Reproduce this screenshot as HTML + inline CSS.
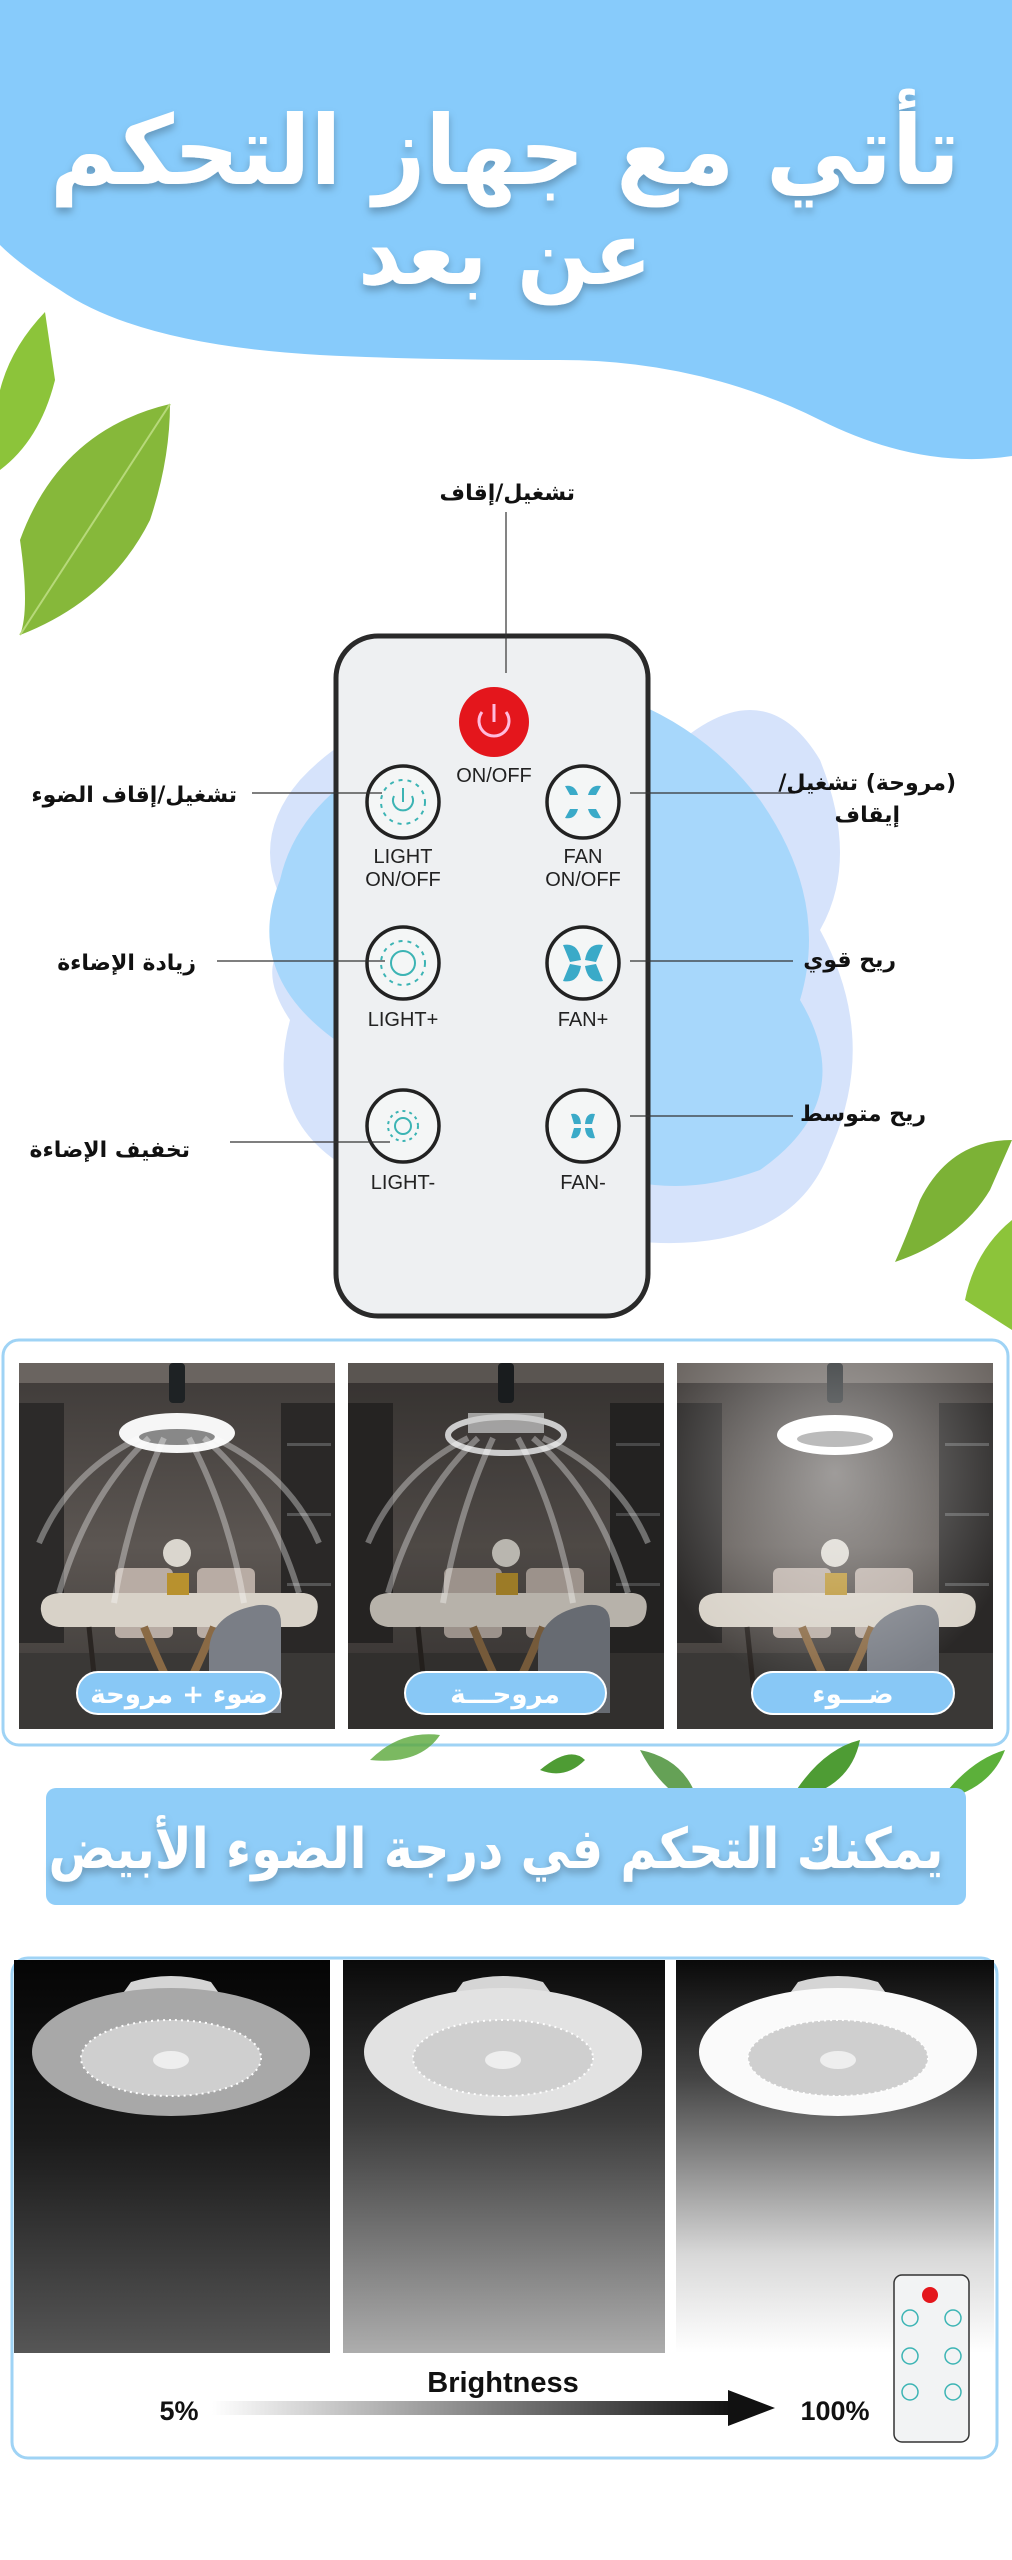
<!DOCTYPE html>
<html><head><meta charset="utf-8">
<style>
html,body{margin:0;padding:0;background:#fff;}
svg{display:block;}
.ar{font-family:"DejaVu Sans","Liberation Sans",sans-serif;}
</style></head>
<body>
<svg width="1012" height="2560" viewBox="0 0 1012 2560" xmlns="http://www.w3.org/2000/svg">
<defs>
  <filter id="sh" x="-10%" y="-10%" width="120%" height="130%"><feDropShadow dx="0" dy="5" stdDeviation="4" flood-color="#000" flood-opacity="0.25"/></filter>
  <linearGradient id="room" x1="0" y1="0" x2="0" y2="1">
    <stop offset="0" stop-color="#3e3a38"/><stop offset="0.5" stop-color="#5c5652"/><stop offset="1" stop-color="#3a3735"/>
  </linearGradient>
  <radialGradient id="glow" cx="0.5" cy="0.3" r="0.6">
    <stop offset="0" stop-color="#fff" stop-opacity="0.45"/><stop offset="1" stop-color="#fff" stop-opacity="0"/>
  </radialGradient>
  <g id="scene">
    <rect width="316" height="366" fill="url(#room)"/>
    <rect x="0" y="0" width="316" height="20" fill="#6a6460"/>
    <rect x="0" y="40" width="45" height="240" fill="#2c2a29"/>
    <rect x="262" y="40" width="54" height="260" fill="#2a2827"/>
    <rect x="268" y="80" width="44" height="3" fill="#555"/><rect x="268" y="150" width="44" height="3" fill="#555"/><rect x="268" y="220" width="44" height="3" fill="#555"/>
    <rect x="0" y="290" width="316" height="76" fill="#3a3836"/>
    <rect x="96" y="205" width="58" height="70" rx="6" fill="#b8aca4"/>
    <rect x="178" y="205" width="58" height="70" rx="6" fill="#b8aca4"/>
    <path d="M22 248 Q20 232 40 230 L285 230 Q302 232 298 250 Q296 262 280 264 L40 264 Q24 262 22 248Z" fill="#d8d2c8"/>
    <path d="M70 264 L78 340 M250 264 L242 340" stroke="#2a2522" stroke-width="5"/>
    <path d="M125 264 Q140 300 150 320 M195 264 Q180 300 170 320" stroke="#8a6a45" stroke-width="8" fill="none"/>
    <path d="M190 290 Q190 250 240 242 Q262 240 262 260 L262 350 L190 350Z" fill="#7a7e86"/>
    <rect x="148" y="210" width="22" height="22" fill="#b8912e"/>
    <circle cx="158" cy="190" r="14" fill="#e8e4dc" opacity="0.9"/>
    <rect x="150" y="0" width="16" height="40" rx="4" fill="#1e2224"/>
  </g>
  <g id="wind" fill="none" stroke="#fff" stroke-opacity="0.35" stroke-width="6">
    <path d="M130 75 Q70 130 40 230"/><path d="M145 75 Q110 150 95 240"/><path d="M170 75 Q210 150 225 240"/><path d="M185 75 Q250 130 280 230"/>
    <path d="M120 75 Q50 110 20 180"/><path d="M195 75 Q270 110 300 180"/>
  </g>
  <linearGradient id="p1" x1="0" y1="0" x2="0" y2="1"><stop offset="0" stop-color="#050505"/><stop offset="0.45" stop-color="#1a1a1a"/><stop offset="1" stop-color="#565656"/></linearGradient>
  <linearGradient id="p2" x1="0" y1="0" x2="0" y2="1"><stop offset="0" stop-color="#0a0a0a"/><stop offset="0.4" stop-color="#3a3a3a"/><stop offset="1" stop-color="#adadad"/></linearGradient>
  <linearGradient id="p3" x1="0" y1="0" x2="0" y2="1"><stop offset="0" stop-color="#0a0a0a"/><stop offset="0.3" stop-color="#444"/><stop offset="0.75" stop-color="#d8d8d8"/><stop offset="1" stop-color="#fff"/></linearGradient>
  <linearGradient id="arr" x1="0" x2="1"><stop offset="0" stop-color="#fff"/><stop offset="1" stop-color="#111"/></linearGradient>
  <g id="fan">
    <path d="M-40 -70 Q0 -82 40 -70 L50 -56 L-50 -56Z" fill="#d5d5d5"/>
    <ellipse cx="0" cy="0" rx="139" ry="64"/>
    <ellipse cx="0" cy="6" rx="90" ry="38" fill="#cfcfcf"/>
    <ellipse cx="0" cy="6" rx="90" ry="38" fill="none" stroke="#fff" stroke-width="2" stroke-dasharray="2 4"/>
    <ellipse cx="0" cy="8" rx="18" ry="9" fill="#eee"/>
  </g>
</defs>

<!-- header -->
<path d="M0 0 H1012 V456 Q920 470 820 420 Q700 360 560 360 Q420 360 320 355 Q140 345 60 290 Q20 265 0 245Z" fill="#87cbfb"/>
<g class="ar" fill="#fff" font-weight="bold" text-anchor="middle" filter="url(#sh)">
  <text x="505" y="184" font-size="96" direction="rtl" textLength="910" lengthAdjust="spacingAndGlyphs">تأتي مع جهاز التحكم</text>
  <text x="505" y="284" font-size="88" direction="rtl" textLength="294" lengthAdjust="spacingAndGlyphs">عن بعد</text>
</g>

<!-- leaves -->
<path d="M45 312 Q-20 380 0 470 Q40 440 55 380Z" fill="#8cc43a"/>
<path d="M170 404 Q60 430 20 540 Q30 610 20 635 Q110 600 150 520 Q170 460 170 404Z" fill="#86b83a"/>
<path d="M170 404 L20 635" stroke="#b7d97a" stroke-width="2"/>
<path d="M1012 1140 Q950 1140 920 1200 Q905 1240 895 1262 Q960 1240 990 1190Z" fill="#7cb236"/>
<path d="M1012 1220 Q975 1250 965 1300 L1012 1330Z" fill="#8cc43a"/>

<!-- blob -->
<path d="M660 760 Q760 660 820 760 Q860 860 820 930 Q880 1040 830 1150 Q790 1260 620 1240 Q480 1230 370 1180 Q260 1130 290 1020 Q250 960 300 930 Q240 850 300 780 Q420 650 660 760Z" fill="#d6e3fb"/>
<path d="M420 740 Q520 640 600 690 Q700 720 760 800 Q830 900 800 1000 Q860 1100 760 1170 Q650 1210 560 1150 Q420 1120 350 1050 Q240 980 280 880 Q300 790 420 740Z" fill="#a7d7fb"/>

<!-- remote -->
<rect x="336" y="636" width="312" height="680" rx="42" fill="#eef0f2" stroke="#2a2a2a" stroke-width="5"/>
<line x1="506" y1="512" x2="506" y2="673" stroke="#333" stroke-width="1.2"/>
<circle cx="494" cy="722" r="35" fill="#e4161c"/>
<path d="M482 712 A15 15 0 1 0 506 712" fill="none" stroke="#fbd" stroke-width="3"/>
<line x1="494" y1="704" x2="494" y2="722" stroke="#fbd" stroke-width="3"/>
<g font-family="Liberation Sans, sans-serif" font-size="20" fill="#222" text-anchor="middle">
  <text x="494" y="782">ON/OFF</text>
  <text x="403" y="863">LIGHT</text><text x="403" y="886">ON/OFF</text>
  <text x="583" y="863">FAN</text><text x="583" y="886">ON/OFF</text>
  <text x="403" y="1026">LIGHT+</text><text x="583" y="1026">FAN+</text>
  <text x="403" y="1189">LIGHT-</text><text x="583" y="1189">FAN-</text>
</g>
<g fill="#f4f6f6" stroke="#222" stroke-width="3.5">
  <circle cx="403" cy="802" r="36"/><circle cx="583" cy="802" r="36"/>
  <circle cx="403" cy="963" r="36"/><circle cx="583" cy="963" r="36"/>
  <circle cx="403" cy="1126" r="36"/><circle cx="583" cy="1126" r="36"/>
</g>
<g stroke="#3cb4b4" stroke-width="2" fill="none">
  <path d="M394 796 A10 10 0 1 0 412 796"/><line x1="403" y1="788" x2="403" y2="802"/>
  <circle cx="403" cy="802" r="22" stroke-dasharray="4 5"/>
  <circle cx="403" cy="963" r="12"/><circle cx="403" cy="963" r="22" stroke-dasharray="4 5"/>
  <circle cx="403" cy="1126" r="8"/><circle cx="403" cy="1126" r="15" stroke-dasharray="3 4"/>
</g>
<g fill="#3aaac8">
  <path d="M565 786 Q575 784 578 795 L570 795Z M601 786 Q591 784 588 795 L596 795Z M565 818 Q575 820 578 809 L570 809Z M601 818 Q591 820 588 809 L596 809Z"/>
  <path d="M563 945 Q578 942 581 960 L570 962Z M603 945 Q588 942 585 960 L596 962Z M563 981 Q578 984 581 966 L570 964Z M603 981 Q588 984 585 966 L596 964Z"/>
  <path d="M571 1114 Q580 1112 581 1124 L574 1124Z M595 1114 Q586 1112 585 1124 L592 1124Z M571 1138 Q580 1140 581 1128 L574 1128Z M595 1138 Q586 1140 585 1128 L592 1128Z"/>
</g>
<!-- leaders -->
<g stroke="#333" stroke-width="1.2">
  <line x1="252" y1="793" x2="382" y2="793"/><line x1="217" y1="961" x2="385" y2="961"/><line x1="230" y1="1142" x2="390" y2="1142"/>
  <line x1="630" y1="793" x2="795" y2="793"/><line x1="630" y1="961" x2="793" y2="961"/><line x1="630" y1="1116" x2="793" y2="1116"/>
</g>
<g class="ar" font-size="22" font-weight="bold" fill="#111" direction="rtl">
  <text x="575" y="500" text-anchor="start">تشغيل/إقاف</text>
  <text x="237" y="802" text-anchor="start">تشغيل/إقاف الضوء</text>
  <text x="196" y="970" text-anchor="start">زيادة الإضاءة</text>
  <text x="190" y="1157" text-anchor="start">تخفيف الإضاءة</text>
  <text x="956" y="790" text-anchor="start">(مروحة) تشغيل/</text>
  <text x="900" y="822" text-anchor="start">إيقاف</text>
  <text x="896" y="967" text-anchor="start">ريح قوي</text>
  <text x="926" y="1121" text-anchor="start">ريح متوسط</text>
</g>

<!-- section 3 photos -->
<rect x="3" y="1340" width="1005" height="405" rx="16" fill="#fff" stroke="#9fd3f5" stroke-width="3"/>
<g transform="translate(19,1363)">
  <use href="#scene"/>
  <ellipse cx="158" cy="70" rx="58" ry="20" fill="#f6f6f6"/><ellipse cx="158" cy="74" rx="38" ry="8" fill="#888"/>
  <use href="#wind"/>
</g>
<g transform="translate(348,1363)">
  <use href="#scene"/>
  <rect x="0" y="0" width="316" height="366" fill="#000" opacity="0.15"/>
  <rect x="120" y="50" width="76" height="20" fill="#bbb" opacity="0.8"/>
  <ellipse cx="158" cy="72" rx="58" ry="18" fill="none" stroke="#ccc" stroke-width="6"/>
  <use href="#wind"/>
</g>
<g transform="translate(677,1363)">
  <use href="#scene"/>
  <rect x="0" y="0" width="316" height="366" fill="url(#glow)"/>
  <ellipse cx="158" cy="72" rx="58" ry="20" fill="#fff"/><ellipse cx="158" cy="76" rx="38" ry="8" fill="#bbb"/>
</g>
<g fill="#88c8f6" stroke="#fff" stroke-width="2">
  <rect x="77" y="1672" width="204" height="42" rx="21"/>
  <rect x="405" y="1672" width="201" height="42" rx="21"/>
  <rect x="752" y="1672" width="202" height="42" rx="21"/>
</g>
<g class="ar" font-size="26" font-weight="bold" fill="#fff" text-anchor="middle" direction="rtl">
  <text x="179" y="1703">ضوء + مروحة</text>
  <text x="505" y="1703">مروحـــة</text>
  <text x="853" y="1703">ضـــوء</text>
</g>

<!-- leaves mid -->
<path d="M370 1760 Q400 1730 440 1735 Q420 1765 370 1760Z" fill="#5aa83a" opacity="0.8"/>
<path d="M540 1770 Q570 1745 585 1760 Q565 1780 540 1770Z" fill="#4e9c34"/>
<path d="M790 1800 Q820 1750 860 1740 Q850 1790 790 1800Z" fill="#4e9c34"/>
<path d="M940 1800 Q970 1760 1005 1750 Q990 1790 940 1800Z" fill="#5cb03a"/>
<path d="M640 1750 Q690 1760 700 1810 Q660 1790 640 1750Z" fill="#3f8a2c" opacity="0.8"/>

<!-- banner -->
<rect x="46" y="1788" width="920" height="117" rx="10" fill="#8fcdf8"/>
<text class="ar" x="496" y="1868" font-size="56" font-weight="bold" fill="#fff" text-anchor="middle" direction="rtl" textLength="895" lengthAdjust="spacingAndGlyphs" filter="url(#sh)">يمكنك التحكم في درجة الضوء الأبيض</text>

<!-- section 4 -->
<rect x="12" y="1958" width="985" height="500" rx="16" fill="#fff" stroke="#9fd3f5" stroke-width="3"/>
<rect x="14" y="1960" width="316" height="393" fill="url(#p1)"/>
<rect x="343" y="1960" width="322" height="393" fill="url(#p2)"/>
<rect x="676" y="1960" width="318" height="393" fill="url(#p3)"/>
<use href="#fan" transform="translate(171,2052)" fill="#a8a8a8"/>
<use href="#fan" transform="translate(503,2052)" fill="#e2e2e2"/>
<use href="#fan" transform="translate(838,2052)" fill="#fafafa"/>
<text x="503" y="2392" font-family="Liberation Sans, sans-serif" font-size="29" font-weight="bold" text-anchor="middle" fill="#111">Brightness</text>
<text x="179" y="2420" font-family="Liberation Sans, sans-serif" font-size="27" font-weight="bold" text-anchor="middle" fill="#111">5%</text>
<text x="835" y="2420" font-family="Liberation Sans, sans-serif" font-size="27" font-weight="bold" text-anchor="middle" fill="#111">100%</text>
<rect x="212" y="2401" width="520" height="14" fill="url(#arr)"/>
<path d="M728 2390 L775 2408 L728 2426Z" fill="#111"/>
<!-- mini remote -->
<rect x="894" y="2275" width="75" height="167" rx="8" fill="#f2f3f4" stroke="#333" stroke-width="1.5"/>
<circle cx="930" cy="2295" r="8" fill="#e4161c"/>
<g fill="none" stroke="#3cb4b4" stroke-width="1.5">
  <circle cx="910" cy="2318" r="8"/><circle cx="953" cy="2318" r="8"/>
  <circle cx="910" cy="2356" r="8"/><circle cx="953" cy="2356" r="8"/>
  <circle cx="910" cy="2392" r="8"/><circle cx="953" cy="2392" r="8"/>
</g>
</svg>
</body></html>
